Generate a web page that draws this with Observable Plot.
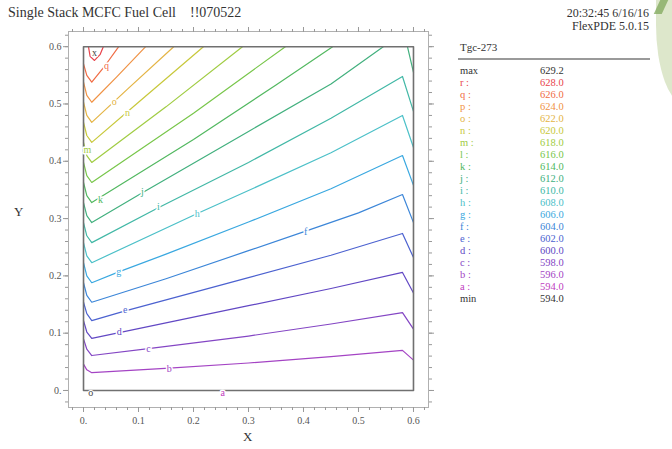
<!DOCTYPE html>
<html>
<head>
<meta charset="utf-8">
<script src="https://cdn.jsdelivr.net/npm/d3@7"></script>
<script src="https://cdn.jsdelivr.net/npm/@observablehq/plot@0.6"></script>
<style>
  body { margin: 0; background: #fff; width: 672px; height: 449px; overflow: hidden; position: relative;
         font-family: "Liberation Serif", "Times New Roman", serif; color: #333; }
  #chart { position: absolute; left: 0; top: 0; }
  .title { position: absolute; left: 8px; top: 5px; font-size: 14px; white-space: pre; color: #333; }
  .stamp { position: absolute; right: 23px; font-size: 12px; line-height: 13px; height: 13px; text-align: right; color: #333; white-space: pre; }
  .axlabel { position: absolute; font-size: 13px; color: #333; }
  #legend { position: absolute; left: 0; top: 0; width: 672px; height: 449px; }
  #legend div { position: absolute; font-size: 10.5px; line-height: 12px; height: 12px; white-space: pre; }
  .deco { position: absolute; left: 656px; top: -10px; width: 30px; height: 115px; background: #dde7cb;
          border-bottom-left-radius: 100% 70%; }
  .deco2 { position: absolute; left: 657px; top: 0; width: 8px; height: 14px; background: #86ad62;
           transform: skewX(-25deg); opacity: 0.8; }
</style>
</head>
<body>
<div class="deco"></div>
<div class="deco2"></div>
<div id="chart"></div>
<div class="title">Single Stack MCFC Fuel Cell    !!070522</div>
<div class="stamp" style="top:7px;">20:32:45 6/16/16</div>
<div class="stamp" style="top:20px;">FlexPDE 5.0.15</div>
<div class="axlabel" style="left:14px; top:204px;">Y</div>
<div class="axlabel" style="left:243px; top:429px;">X</div>
<div id="legend"></div>
<script>
// Contour levels of Tgc-273 (degrees), lowest to highest
const levels      = ["a", "b", "c", "d", "e", "f", "g", "h", "i", "j", "k", "l", "m", "n", "o", "p", "q", "r"];
const levelValues = [594, 596, 598, 600, 602, 604, 606, 608, 610, 612, 614, 616, 618, 620, 622, 624, 626, 628];
const levelColors = ["#c040c0", "#a444c4", "#8446c4", "#6248c4", "#4c62d0", "#3c86d8", "#3aa8e0", "#4cc0c8",
                     "#42b8a6", "#42b07e", "#52b860", "#78c64a", "#a0cc42", "#c8c83a", "#e4b444", "#f09244",
                     "#f06c44", "#e8444c"];
const maxValue = 629.2;
const minValue = 594.0;

// Axis ticks
const xTicks = [0, 0.1, 0.2, 0.3, 0.4, 0.5, 0.6];
const yTicks = [0, 0.1, 0.2, 0.3, 0.4, 0.5, 0.6];
const minorTicks = d3.range(-0.02, 0.63, 0.02);

// Cell boundary (x, y in m)
const cellBox = [[0, 0], [0.6, 0], [0.6, 0.6], [0, 0.6], [0, 0]];

// Contour polylines [x, y]
const lineB = [[0, 0.046], [0.006, 0.036], [0.015, 0.031], [0.156, 0.039], [0.3, 0.048], [0.45, 0.059], [0.58, 0.070], [0.6, 0.053]];
const lineC = [[0, 0.090], [0.006, 0.072], [0.015, 0.061], [0.118, 0.073], [0.3, 0.095], [0.45, 0.116], [0.58, 0.136], [0.6, 0.107]];
const lineD = [[0, 0.122], [0.006, 0.102], [0.015, 0.091], [0.065, 0.101], [0.3, 0.148], [0.45, 0.178], [0.58, 0.206], [0.6, 0.170]];
const lineE = [[0, 0.154], [0.006, 0.134], [0.015, 0.122], [0.076, 0.139], [0.3, 0.197], [0.45, 0.236], [0.58, 0.274], [0.6, 0.232]];
const lineF = [[0, 0.188], [0.006, 0.166], [0.015, 0.154], [0.15, 0.195], [0.3, 0.244], [0.404, 0.278], [0.5, 0.310], [0.58, 0.342], [0.6, 0.293]];
const lineG = [[0, 0.223], [0.006, 0.200], [0.015, 0.188], [0.064, 0.207], [0.15, 0.238], [0.3, 0.294], [0.45, 0.352], [0.58, 0.410], [0.6, 0.358]];
const lineH = [[0, 0.258], [0.006, 0.235], [0.015, 0.223], [0.207, 0.309], [0.3, 0.349], [0.45, 0.415], [0.58, 0.480], [0.6, 0.424]];
const lineI = [[0, 0.293], [0.006, 0.270], [0.015, 0.258], [0.136, 0.319], [0.3, 0.398], [0.45, 0.475], [0.58, 0.548], [0.6, 0.487]];
const lineJ = [[0, 0.328], [0.006, 0.305], [0.015, 0.293], [0.107, 0.345], [0.3, 0.452], [0.45, 0.535], [0.545, 0.6]];
const lineJ2 = [[0.589, 0.6], [0.6, 0.555]];
const lineK = [[0, 0.363], [0.006, 0.340], [0.015, 0.328], [0.2, 0.438], [0.35, 0.533], [0.453, 0.6]];
const lineL = [[0, 0.398], [0.006, 0.375], [0.015, 0.363], [0.2, 0.484], [0.367, 0.6]];
const lineM = [[0, 0.433], [0.006, 0.410], [0.015, 0.398], [0.15, 0.495], [0.289, 0.6]];
const lineN = [[0, 0.468], [0.006, 0.445], [0.015, 0.433], [0.1, 0.503], [0.218, 0.6]];
const lineO = [[0, 0.503], [0.006, 0.480], [0.015, 0.468], [0.08, 0.526], [0.164, 0.6]];
const lineP = [[0, 0.538], [0.006, 0.515], [0.015, 0.503], [0.06, 0.547], [0.113, 0.6]];
const lineQ = [[0, 0.570], [0.006, 0.550], [0.015, 0.538], [0.04, 0.568], [0.064, 0.6]];
const lineR = [[0.009, 0.6], [0.012, 0.583], [0.02, 0.576], [0.03, 0.586], [0.036, 0.6]];

const pieces = [["b", lineB], ["c", lineC], ["d", lineD], ["e", lineE], ["f", lineF], ["g", lineG],
                ["h", lineH], ["i", lineI], ["j", lineJ], ["j", lineJ2], ["k", lineK], ["l", lineL],
                ["m", lineM], ["n", lineN], ["o", lineO], ["p", lineP], ["q", lineQ], ["r", lineR]];
const contourRows = pieces.flatMap(([level, pts], k) => pts.map(([x, y]) => ({piece: k, level, x, y})));

// Inline contour labels
const labelLevels = ["q", "o", "n", "m", "k", "j", "i", "h", "f", "g", "e", "d", "c", "b", "a"];
const labelX = [0.042, 0.056, 0.080, 0.007, 0.031, 0.107, 0.136, 0.207, 0.404, 0.064, 0.076, 0.065, 0.118, 0.156, 0.253];
const labelY = [0.566, 0.503, 0.485, 0.420, 0.332, 0.346, 0.320, 0.309, 0.277, 0.208, 0.141, 0.103, 0.073, 0.038, -0.004];
const labelRows = labelLevels.map((level, i) => ({level, x: labelX[i], y: labelY[i]}));

// Extremum markers
const markers = [{text: "x", x: 0.020, y: 0.590}, {text: "o", x: 0.013, y: -0.004}];

const W = 440, H = 449;
const fmt = d => d === 0 ? "0." : d3.format(".1f")(d);
const tickStyle = {stroke: "#999", fontSize: 10, fill: "#555", label: null};

const chart = Plot.plot({
  width: W,
  height: H,
  marginLeft: 68,
  marginRight: W - 428,
  marginTop: 31,
  marginBottom: H - 407,
  x: {domain: [-0.0273, 0.6273], label: null},
  y: {domain: [-0.0297, 0.6265], label: null},
  color: {domain: levels, range: levelColors},
  style: {fontFamily: "Liberation Serif, serif", background: "transparent", overflow: "visible"},
  marks: [
    Plot.frame({stroke: "#b0b0b0"}),
    Plot.axisX(xTicks, {...tickStyle, anchor: "bottom", tickSize: 5, tickPadding: 4, tickFormat: fmt}),
    Plot.axisX(minorTicks, {...tickStyle, anchor: "bottom", tickSize: 3, tickFormat: () => ""}),
    Plot.axisX(xTicks, {...tickStyle, anchor: "top", tickSize: 5, tickFormat: () => ""}),
    Plot.axisX(minorTicks, {...tickStyle, anchor: "top", tickSize: 3, tickFormat: () => ""}),
    Plot.axisY(yTicks, {...tickStyle, anchor: "left", tickSize: 5, tickPadding: 2, tickFormat: fmt}),
    Plot.axisY(minorTicks, {...tickStyle, anchor: "left", tickSize: 3, tickFormat: () => ""}),
    Plot.axisY(yTicks, {...tickStyle, anchor: "right", tickSize: 5, tickFormat: () => ""}),
    Plot.axisY(minorTicks, {...tickStyle, anchor: "right", tickSize: 3, tickFormat: () => ""}),
    Plot.line(contourRows, {x: "x", y: "y", z: "piece", stroke: "level", strokeWidth: 1.2, curve: "linear"}),
    Plot.line(cellBox, {x: d => d[0], y: d => d[1], stroke: "#707070", strokeWidth: 1.6}),
    Plot.text(labelRows, {x: "x", y: "y", text: "level", fill: "level", stroke: "white", strokeWidth: 3,
                          paintOrder: "stroke", fontSize: 10}),
    Plot.text(markers, {x: "x", y: "y", text: "text", fill: "#444", stroke: "white", strokeWidth: 2,
                        paintOrder: "stroke", fontSize: 10})
  ]
});
document.getElementById("chart").appendChild(chart);

// Level table beside the plot
const legend = document.getElementById("legend");
function addCell(text, left, centerY, color) {
  const el = document.createElement("div");
  el.textContent = text;
  el.style.left = left + "px";
  el.style.top = (centerY - 6) + "px";
  el.style.color = color;
  legend.appendChild(el);
}
const head = document.createElement("div");
head.textContent = "Tgc-273";
Object.assign(head.style, {left: "460px", top: "41px", fontSize: "11px", color: "#333"});
legend.appendChild(head);
const rule = document.createElement("div");
Object.assign(rule.style, {left: "458px", top: "58px", width: "192px", height: "2px", background: "#9a9a9a"});
legend.appendChild(rule);

const rowStart = 71, rowStep = 12;
addCell("max", 460, rowStart, "#333");
addCell(maxValue.toFixed(1), 540, rowStart, "#333");
for (let i = levels.length - 1, r = 1; i >= 0; i--, r++) {
  addCell(levels[i] + " :", 460, rowStart + r * rowStep, levelColors[i]);
  addCell(levelValues[i].toFixed(1), 540, rowStart + r * rowStep, levelColors[i]);
}
addCell("min", 460, rowStart + (levels.length + 1) * rowStep, "#333");
addCell(minValue.toFixed(1), 540, rowStart + (levels.length + 1) * rowStep, "#333");
</script>
</body>
</html>
